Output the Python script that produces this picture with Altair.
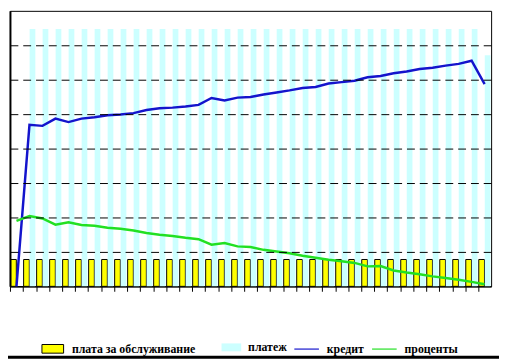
import altair as alt
import pandas as pd

# ---- data ----
periods = list(range(1, 38))

fee_name = "плата за обслуживание"
pay_name = "платеж"
credit_name = "кредит"
interest_name = "проценты"

service_fee = [0.78, 0.78, 0.78, 0.78, 0.78, 0.78, 0.78, 0.78, 0.78, 0.78,
               0.78, 0.78, 0.78, 0.78, 0.78, 0.78, 0.78, 0.78, 0.78, 0.78,
               0.78, 0.78, 0.78, 0.78, 0.78, 0.78, 0.78, 0.78, 0.78, 0.78,
               0.78, 0.78, 0.78, 0.78, 0.78, 0.78, 0.78]
payment = [0.0, 7.47, 7.47, 7.47, 7.47, 7.47, 7.47, 7.47, 7.47, 7.47,
           7.47, 7.47, 7.47, 7.47, 7.47, 7.47, 7.47, 7.47, 7.47, 7.47,
           7.47, 7.47, 7.47, 7.47, 7.47, 7.47, 7.47, 7.47, 7.47, 7.47,
           7.47, 7.47, 7.47, 7.47, 7.47, 7.47, 6.71]
credit = [0.00, 4.69, 4.66, 4.87, 4.77, 4.87, 4.91, 4.97, 4.99, 5.03,
          5.12, 5.17, 5.19, 5.22, 5.27, 5.47, 5.40, 5.48, 5.50, 5.57,
          5.63, 5.69, 5.76, 5.79, 5.89, 5.93, 5.97, 6.07, 6.11, 6.19,
          6.24, 6.31, 6.35, 6.41, 6.46, 6.55, 5.87]
interest = [1.90, 2.04, 1.97, 1.79, 1.86, 1.78, 1.76, 1.70, 1.67, 1.62,
            1.55, 1.50, 1.46, 1.41, 1.37, 1.21, 1.26, 1.16, 1.14, 1.06,
            1.01, 0.96, 0.89, 0.83, 0.77, 0.73, 0.68, 0.58, 0.59, 0.46,
            0.40, 0.35, 0.29, 0.24, 0.19, 0.13, 0.06]
grid_values = [1, 2, 3, 4, 5, 6, 7]

fee_df = pd.DataFrame({"period": periods, "series": fee_name, "value": service_fee})
pay_df = pd.DataFrame({"period": periods, "series": pay_name, "value": payment})
lines_df = pd.DataFrame(
    [{"period": p, "series": credit_name, "value": v} for p, v in zip(periods, credit)]
    + [{"period": p, "series": interest_name, "value": v} for p, v in zip(periods, interest)]
)

FONT = "Liberation Serif"
LEG_Y = 332

label_style = dict(labelFont=FONT, labelFontWeight="bold", labelFontSize=12,
                   labelColor="black", labelLimit=300, padding=0, title=None,
                   orient="none", direction="horizontal")

x_enc = alt.X(
    "period:O",
    scale=alt.Scale(paddingInner=0.1, paddingOuter=0.05),
    axis=alt.Axis(labels=False, title=None, ticks=True, tickSize=5, tickColor="black",
                  tickWidth=1, domainColor="black", domainWidth=1.5, bandPosition=0,
                  grid=False),
)
y_enc = alt.Y(
    "value:Q",
    scale=alt.Scale(domain=[0, 8], nice=False, zero=True),
    axis=alt.Axis(values=grid_values, labels=False, ticks=False, title=None, grid=True,
                  gridDash=[8, 5], gridColor="black", gridWidth=1, gridOpacity=1,
                  domainColor="black", domainWidth=2, zindex=1),
)
xoff = alt.XOffset("series:N", scale=alt.Scale(domain=[fee_name, pay_name], paddingInner=0.05))

fee_bars = alt.Chart(fee_df).mark_bar(stroke="black", strokeWidth=1).encode(
    x=x_enc, xOffset=xoff, y=y_enc,
    fill=alt.Fill(
        "series:N",
        scale=alt.Scale(domain=[fee_name], range=["#FFFF00"]),
        legend=alt.Legend(legendX=32, legendY=LEG_Y, symbolType="M-1,-0.4H1V0.4H-1Z",
                          symbolSize=484, symbolOpacity=1, symbolStrokeColor="black",
                          symbolStrokeWidth=1, labelOffset=8, **label_style),
    ),
)

pay_bars = alt.Chart(pay_df).mark_bar().encode(
    x=x_enc, xOffset=xoff, y=y_enc,
    fill=alt.Fill(
        "series:N",
        scale=alt.Scale(domain=[pay_name], range=["#CCFFFF"]),
        legend=alt.Legend(legendX=215, legendY=LEG_Y, symbolType="M-1,-0.4H1V0.4H-1Z",
                          symbolSize=400, symbolOpacity=1, symbolStrokeWidth=0,
                          labelOffset=7, **label_style),
    ),
)

lines = alt.Chart(lines_df).mark_line(strokeWidth=2.5).encode(
    x=x_enc,
    y=y_enc,
    stroke=alt.Stroke(
        "series:N",
        scale=alt.Scale(domain=[credit_name, interest_name], range=["#1414CC", "#22E022"]),
        legend=alt.Legend(legendX=288, legendY=LEG_Y - 2, symbolType="stroke",
                          symbolSize=625, symbolStrokeWidth=1.2,
                          labelOffset=7, columnPadding=5, **label_style),
    ),
)

border = alt.Chart(pd.DataFrame({"a": [0]})).mark_rule(color="black", strokeWidth=3).encode(
    x=alt.value(-10), x2=alt.value(499), y=alt.value(352)
)

chart = alt.layer(fee_bars, pay_bars, lines, border).resolve_scale(
    fill="independent", stroke="independent"
).properties(
    width=489, height=280,
    autosize=alt.AutoSizeParams(type="none"),
    padding={"left": 2, "top": 0, "right": 8, "bottom": 74},
    background="white",
).configure_view(stroke="black", strokeWidth=1)

chart.save("out.html", embed_options={"renderer": "svg", "actions": False})
